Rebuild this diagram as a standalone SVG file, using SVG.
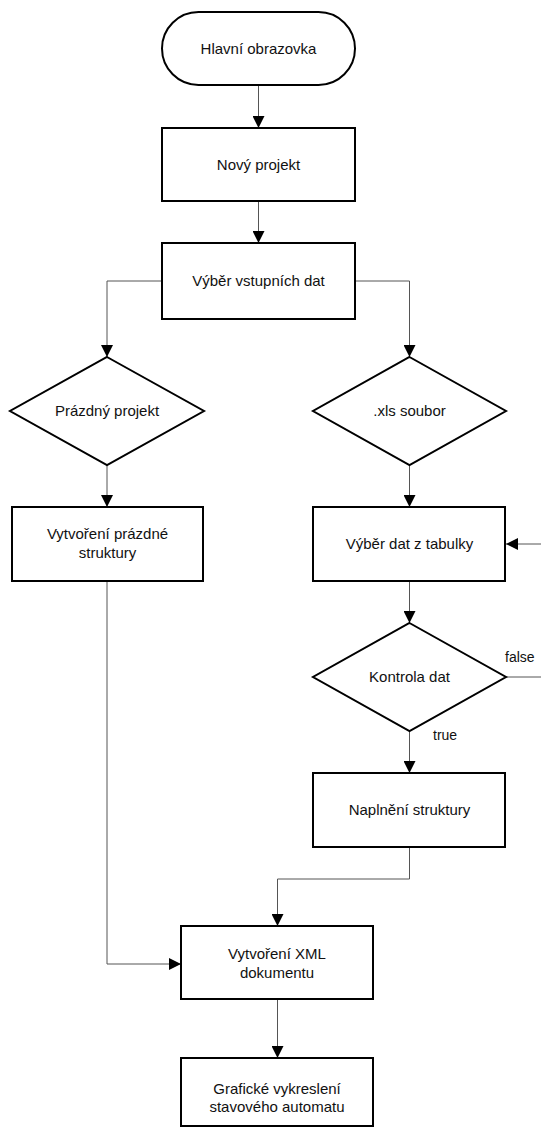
<svg xmlns="http://www.w3.org/2000/svg" width="541" height="1128" viewBox="0 0 541 1128">
  <style>
    .node { fill: #ffffff; stroke: #000000; stroke-width: 2; }
    .conn { fill: none; stroke: #555555; stroke-width: 1; }
    .label { font-family: "Liberation Sans", Arial, sans-serif; font-size: 15px; fill: #111111; text-anchor: middle; }
    .tag { font-family: "Liberation Sans", Arial, sans-serif; font-size: 14px; fill: #111111; }
  </style>
  <defs>
    <marker id="arrow" viewBox="0 0 12 12" markerWidth="12" markerHeight="12" refX="12" refY="6" orient="auto" markerUnits="userSpaceOnUse">
      <path d="M0,0 L12,6 L0,12 Z" fill="#000000"/>
    </marker>
  </defs>
  <rect width="541" height="1128" fill="#ffffff"/>

  <g id="connectors">
    <path class="conn" d="M258.5,85 V128" marker-end="url(#arrow)"/>
    <path class="conn" d="M258.5,201 V243" marker-end="url(#arrow)"/>
    <path class="conn" d="M162,281 H107 V357" marker-end="url(#arrow)"/>
    <path class="conn" d="M355,281 H409.5 V357" marker-end="url(#arrow)"/>
    <path class="conn" d="M107,465 V507" marker-end="url(#arrow)"/>
    <path class="conn" d="M409.5,465 V507" marker-end="url(#arrow)"/>
    <path class="conn" d="M107,581 V964 H181" marker-end="url(#arrow)"/>
    <path class="conn" d="M541,544 H506" marker-end="url(#arrow)"/>
    <path class="conn" d="M409.5,581 V623" marker-end="url(#arrow)"/>
    <path class="conn" d="M506,677 H541"/>
    <path class="conn" d="M409.5,731 V773" marker-end="url(#arrow)"/>
    <path class="conn" d="M409.5,847 V879 H277.5 V926" marker-end="url(#arrow)"/>
    <path class="conn" d="M277.5,999 V1058" marker-end="url(#arrow)"/>
    <text class="tag" x="505" y="662">false</text>
    <text class="tag" x="433" y="740">true</text>
  </g>

  <g id="hlavni-obrazovka">
    <rect class="node" x="162" y="12" width="193" height="73" rx="36.5" ry="36.5"/>
    <text class="label" x="258.5" y="54">Hlavní obrazovka</text>
  </g>

  <g id="novy-projekt">
    <rect class="node" x="162" y="128" width="193" height="73"/>
    <text class="label" x="258.5" y="170">Nový projekt</text>
  </g>

  <g id="vyber-vstupnich-dat">
    <rect class="node" x="162" y="243" width="193" height="76"/>
    <text class="label" x="258.5" y="286">Výběr vstupních dat</text>
  </g>

  <g id="prazdny-projekt">
    <polygon class="node" points="107,357 204,411 107,465 10,411"/>
    <text class="label" x="107" y="416">Prázdný projekt</text>
  </g>

  <g id="xls-soubor">
    <polygon class="node" points="409.5,357 506,411 409.5,465 313,411"/>
    <text class="label" x="409.5" y="416">.xls soubor</text>
  </g>

  <g id="vytvoreni-prazdne-struktury">
    <rect class="node" x="12" y="507" width="191" height="74"/>
    <text class="label" x="107.5" y="539">Vytvoření prázdné</text>
    <text class="label" x="107.5" y="558">struktury</text>
  </g>

  <g id="vyber-dat-z-tabulky">
    <rect class="node" x="313" y="507" width="192" height="74"/>
    <text class="label" x="409.5" y="549">Výběr dat z tabulky</text>
  </g>

  <g id="kontrola-dat">
    <polygon class="node" points="409.5,623 506,677 409.5,731 313,677"/>
    <text class="label" x="409.5" y="682">Kontrola dat</text>
  </g>

  <g id="naplneni-struktury">
    <rect class="node" x="313" y="773" width="192" height="74"/>
    <text class="label" x="409.5" y="815">Naplnění struktury</text>
  </g>

  <g id="vytvoreni-xml-dokumentu">
    <rect class="node" x="181" y="926" width="192" height="73"/>
    <text class="label" x="277" y="959">Vytvoření XML</text>
    <text class="label" x="277" y="978">dokumentu</text>
  </g>

  <g id="graficke-vykresleni">
    <rect class="node" x="181" y="1058" width="192" height="68"/>
    <text class="label" x="277" y="1094">Grafické vykreslení</text>
    <text class="label" x="277" y="1112">stavového automatu</text>
  </g>
</svg>
